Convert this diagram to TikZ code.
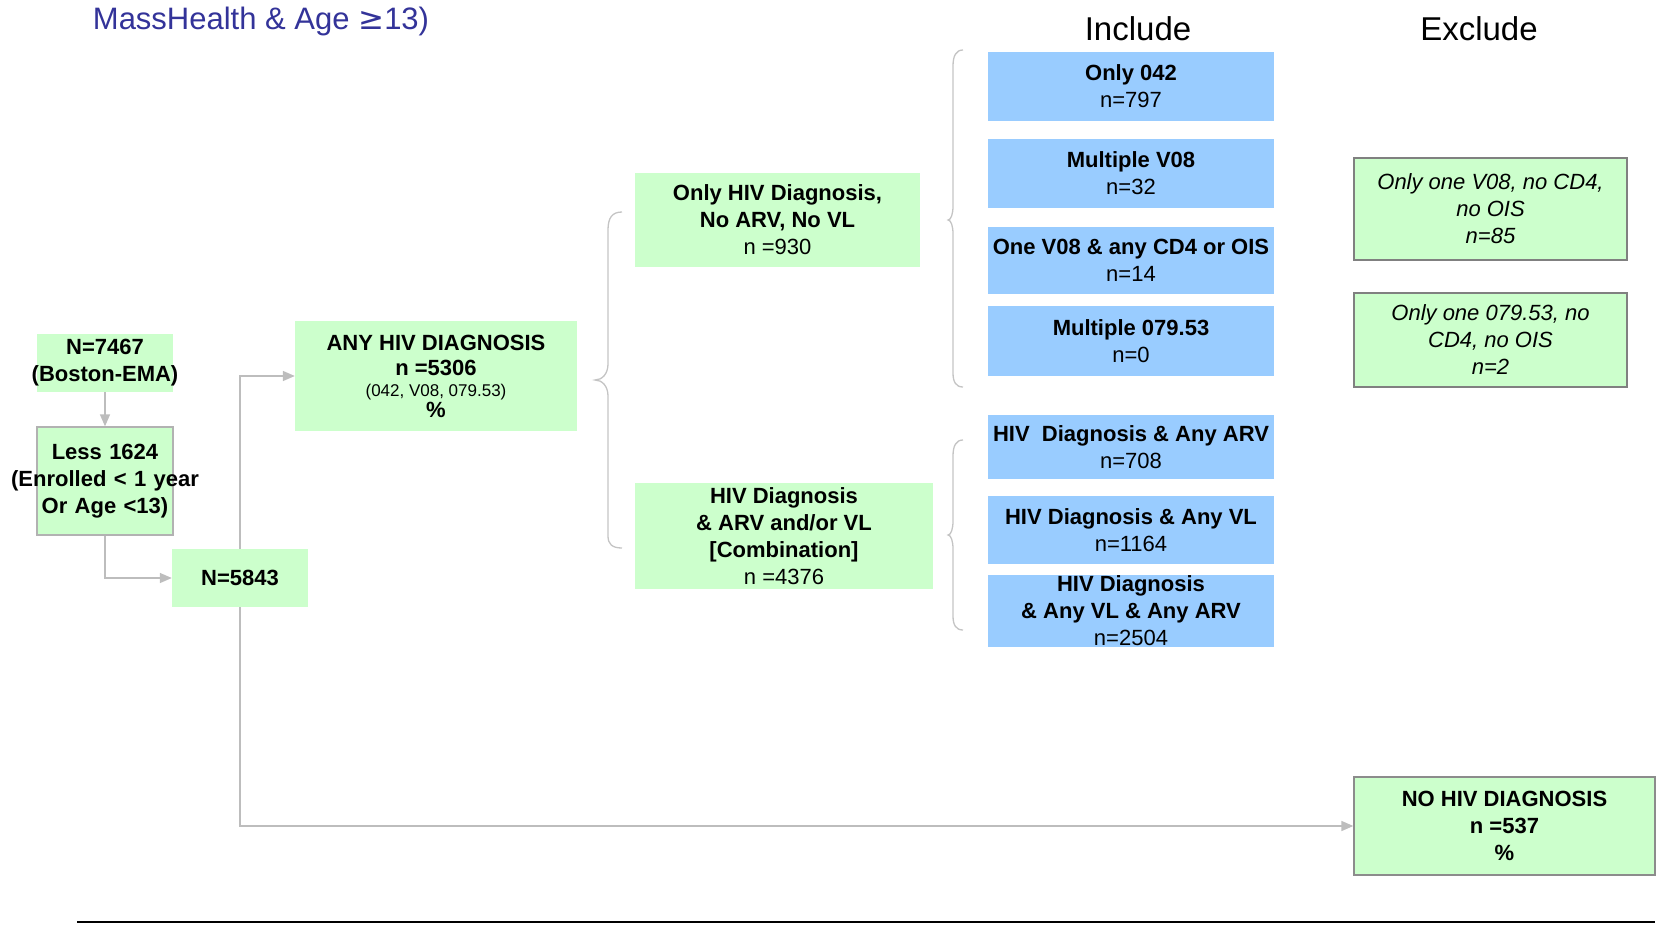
\documentclass[tikz,border=0pt]{standalone}
\usepackage{fontspec}
\setmainfont{Liberation Sans}
\newfontfamily\symfont{DejaVu Sans}
\usetikzlibrary{arrows.meta}
\definecolor{boxgreen}{HTML}{CCFFCC}
\definecolor{boxblue}{HTML}{99CCFF}
\definecolor{conn}{HTML}{BDBDBD}
\definecolor{bracegray}{HTML}{C4C4C4}
\definecolor{titleblue}{HTML}{333399}
\begin{document}
\begin{tikzpicture}[x=1pt,y=-1pt,
  box/.style={inner sep=0pt, align=center, font=\fontsize{22}{27}\selectfont},
  gbox/.style={box, fill=boxgreen},
  bbox/.style={box, fill=boxblue, minimum width=286pt},
  xbox/.style={box, fill=boxgreen, draw=black!50, line width=1.3pt, minimum width=273pt, font=\fontsize{22}{27}\selectfont\itshape},
  conn/.style={draw=conn, line width=1.5pt, -{Triangle[length=12pt,width=10pt]}},
  bracestyle/.style={draw=bracegray, line width=1.3pt},
  heading/.style={inner sep=0pt, font=\fontsize{33}{36}\selectfont}
]
\useasboundingbox (0,0) rectangle (1663,925);

% title
\node[inner sep=0pt, text=titleblue, font=\fontsize{31}{36}\selectfont] (title) at (261,21) {MassHealth \& Age {\symfont ≥}13)};
\node[heading] (include) at (1138,29) {Include};
\node[heading] (exclude) at (1479,29) {Exclude};

% left column
\node[gbox, minimum width=136pt, minimum height=58pt, text width=136pt] (n7467) at (105,363)
  {\textbf{N=7467}\\\makebox[136pt]{\textbf{(Boston-EMA)}}};
\node[gbox, draw=black!30, line width=1.3pt, minimum width=136pt, minimum height=108pt, text width=136pt] (less) at (105,481)
  {\textbf{Less 1624}\\\makebox[136pt]{\textbf{(Enrolled < 1 year}}\\\textbf{Or Age <13)}};
\node[gbox, minimum width=136pt, minimum height=58pt] (n5843) at (240,578) {\textbf{N=5843}};

\node[gbox, minimum width=282pt, minimum height=110pt] (anyhiv) at (436,376)
  {\textbf{ANY HIV DIAGNOSIS}\\[-2pt]\textbf{n =5306}\\[-6pt]{\fontsize{17}{20}\selectfont (042, V08, 079.53)}\\[-6pt]\textbf{\%}};

\node[gbox, minimum width=285pt, minimum height=94pt] (onlyhiv) at (777.5,220)
  {\textbf{Only HIV Diagnosis,}\\\textbf{No ARV, No VL}\\n =930};
\node[gbox, minimum width=298pt, minimum height=106pt] (combo) at (784,536)
  {\textbf{HIV Diagnosis}\\\textbf{\& ARV and/or VL}\\\textbf{[Combination]}\\n =4376};

% include boxes
\node[bbox, minimum height=69pt] (b1) at (1131,86.5) {\textbf{Only 042}\\n=797};
\node[bbox, minimum height=69pt] (b2) at (1131,173.5) {\textbf{Multiple V08}\\n=32};
\node[bbox, minimum height=67pt] (b3) at (1131,260.5) {\textbf{One V08 \& any CD4 or OIS}\\n=14};
\node[bbox, minimum height=70pt] (b4) at (1131,341) {\textbf{Multiple 079.53}\\n=0};
\node[bbox, minimum height=64pt] (b5) at (1131,447) {\textbf{HIV\ \ Diagnosis \& Any ARV}\\n=708};
\node[bbox, minimum height=68pt] (b6) at (1131,530) {\textbf{HIV Diagnosis \& Any VL}\\n=1164};
\node[bbox, minimum height=72pt] (b7) at (1131,611) {\textbf{HIV Diagnosis}\\\textbf{\& Any VL \& Any ARV}\\n=2504};

% exclude boxes
\node[xbox, minimum height=102pt] (e1) at (1490.5,209) {Only one V08, no CD4,\\no OIS\\n=85};
\node[xbox, minimum height=94pt] (e2) at (1490.5,340) {Only one 079.53, no\\CD4, no OIS\\n=2};
\node[gbox, draw=black!45, line width=1.3pt, minimum width=301pt, minimum height=98pt] (nohiv) at (1504.5,826)
  {\textbf{NO HIV DIAGNOSIS}\\\textbf{n =537}\\\textbf{\%}};

% connectors
\draw[conn] (n7467.south) -- (less.north);
\draw[conn] (less.south) |- (n5843.west);
\draw[conn] (n5843.north) |- (anyhiv.west);
\draw[conn] (n5843.south) |- (nohiv.west);

% braces
\draw[bracestyle] (622,212) .. controls (612,212) and (608,218) .. (608,230) -- (608,364)
  .. controls (608,374) and (602,380) .. (595,380)
  .. controls (602,380) and (608,386) .. (608,396) -- (608,536)
  .. controls (608,544) and (612,548) .. (622,548);
\draw[bracestyle] (963,50) .. controls (956,50) and (953,56) .. (953,66) -- (953,206)
  .. controls (953,214) and (951,220) .. (948,220)
  .. controls (951,220) and (953,226) .. (953,234) -- (953,373)
  .. controls (953,382) and (956,387) .. (963,387);
\draw[bracestyle] (963,440) .. controls (956,440) and (953,446) .. (953,456) -- (953,521)
  .. controls (953,529) and (951,535) .. (948,535)
  .. controls (951,535) and (953,541) .. (953,549) -- (953,616)
  .. controls (953,625) and (956,630) .. (963,630);

% bottom rule
\draw[black, line width=1.5pt] (77,922) -- (1655,922);
\end{tikzpicture}
\end{document}
